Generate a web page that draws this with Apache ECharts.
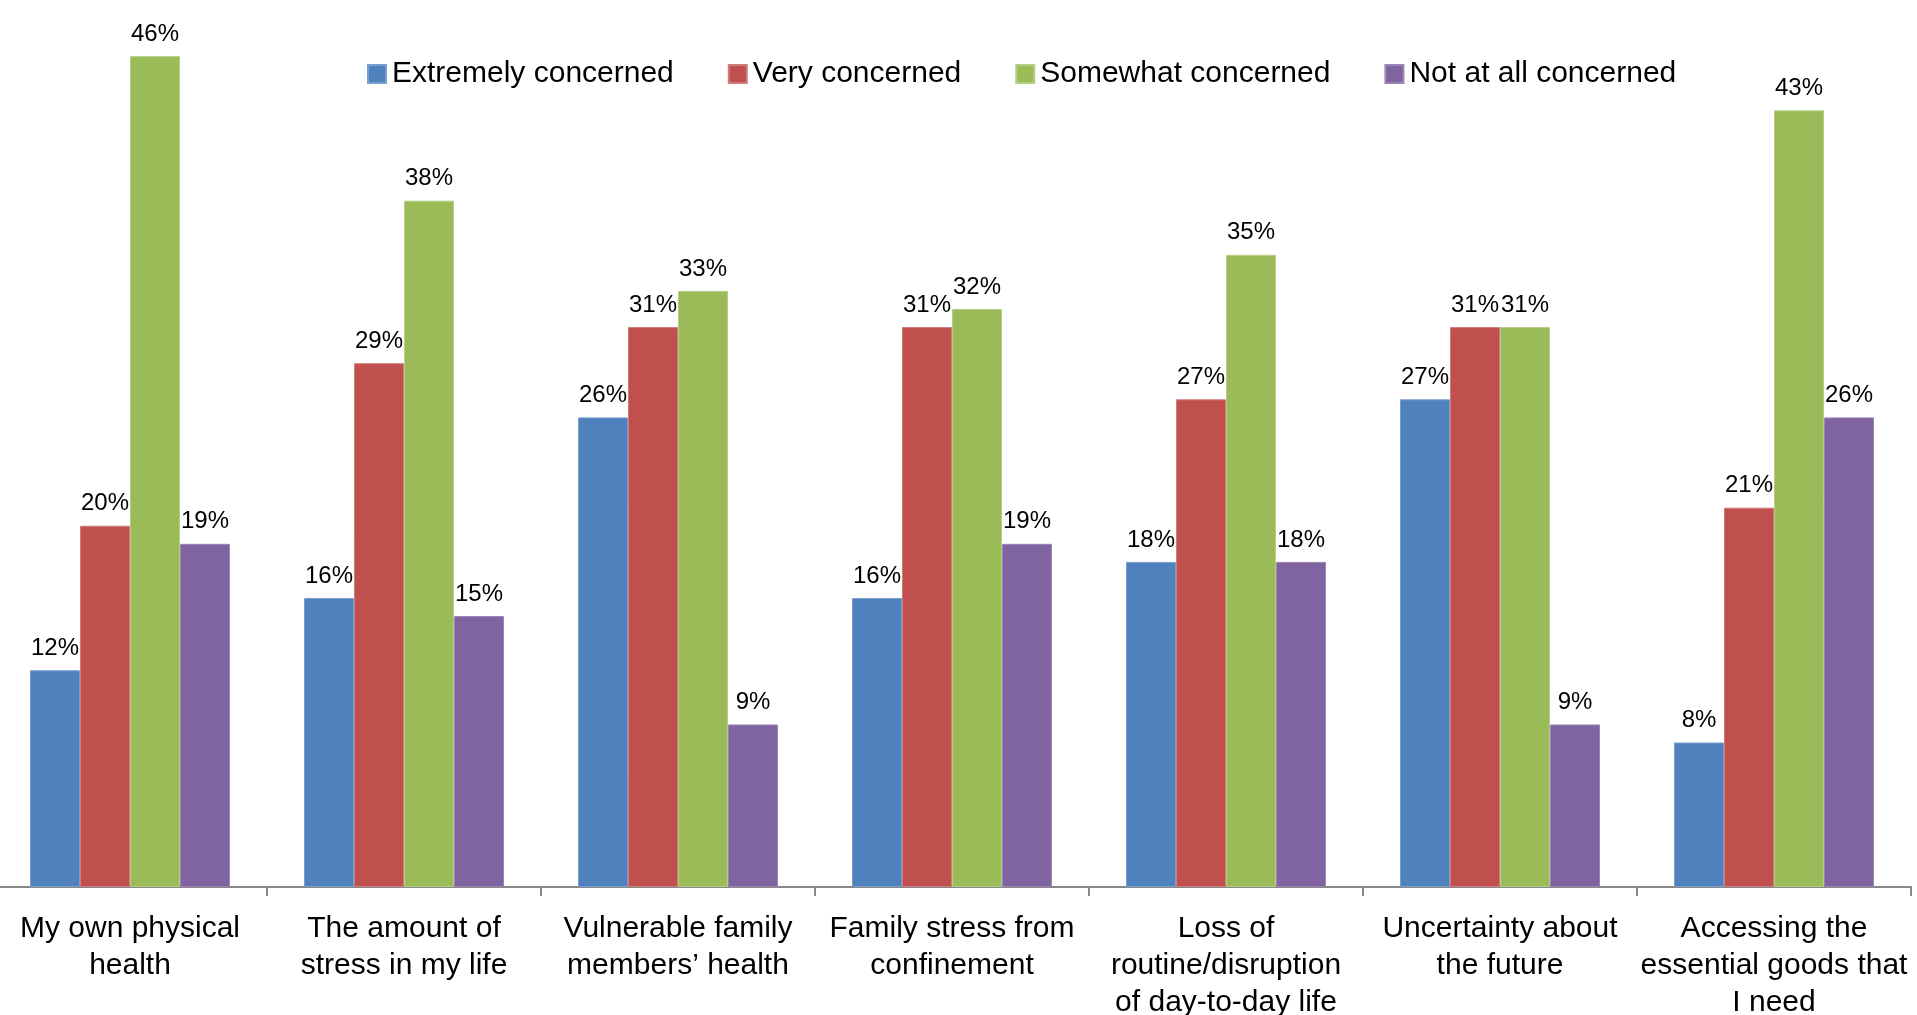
<!DOCTYPE html>
<html>
<head>
<meta charset="utf-8">
<title>Concerns</title>
<script src="https://cdn.jsdelivr.net/npm/echarts@6/dist/echarts.min.js"></script>
<style>
  html, body { margin: 0; padding: 0; background: #ffffff; }
  #chart { width: 1917px; height: 1015px; }
</style>
</head>
<body>
<div id="chart"></div>
<script>
// Survey categories (line breaks follow the wrapped axis labels)
const categories = [
  'My own physical\nhealth',
  'The amount of\nstress in my life',
  'Vulnerable family\nmembers\u2019 health',
  'Family stress from\nconfinement',
  'Loss of\nroutine/disruption\nof day-to-day life',
  'Uncertainty about\nthe future',
  'Accessing the\nessential goods that\nI need'
];

const seriesNames = ['Extremely concerned', 'Very concerned', 'Somewhat concerned', 'Not at all concerned'];

// Percent of respondents per concern level
const extremely = [12, 16, 26, 16, 18, 27, 8];
const very      = [20, 29, 31, 31, 27, 31, 21];
const somewhat  = [46, 38, 33, 32, 35, 31, 43];
const notAtAll  = [19, 15, 9, 19, 18, 9, 26];

const colors = ['#4F81BD', '#C0504D', '#9BBB59', '#8064A2'];
const borders = ['#7A9FCE', '#D07C7A', '#B5CE86', '#9C86B8'];

const font = '"Liberation Sans", Arial, sans-serif';

const chart = echarts.init(document.getElementById('chart'), null, { renderer: 'canvas' });

function makeSeries(name, data, i) {
  return {
    name: name,
    type: 'bar',
    data: data,
    barGap: '0%',
    barCategoryGap: '27%',
    itemStyle: { color: colors[i], borderColor: borders[i], borderWidth: 1 },
    label: {
      show: true,
      position: 'top',
      distance: 10,
      formatter: '{c}%',
      color: '#000000',
      fontFamily: font,
      fontSize: 24
    },
    emphasis: { disabled: true }
  };
}

chart.setOption({
  animation: false,
  backgroundColor: '#ffffff',
  color: colors,
  legend: {
    data: seriesNames,
    left: 362,
    top: 54,
    itemWidth: 18,
    itemHeight: 18,
    itemGap: 54,
    icon: 'rect',
    textStyle: { fontFamily: font, fontSize: 30, color: '#000000', padding: [0, 0, 0, 1] }
  },
  grid: {
    left: -7,
    right: 6,
    top: 20,
    bottom: 128,
    outerBoundsMode: 'none',
    containLabel: false
  },
  xAxis: {
    type: 'category',
    data: categories,
    boundaryGap: true,
    axisLine: { show: true, lineStyle: { color: '#888888', width: 2 } },
    axisTick: { show: true, length: 9, lineStyle: { color: '#888888', width: 2 } },
    axisLabel: {
      interval: 0,
      margin: 23,
      fontFamily: font,
      fontSize: 30,
      lineHeight: 37,
      color: '#000000',
      align: 'center'
    }
  },
  yAxis: {
    type: 'value',
    min: 0,
    max: 48,
    show: false,
    splitLine: { show: false }
  },
  series: [
    makeSeries(seriesNames[0], extremely, 0),
    makeSeries(seriesNames[1], very, 1),
    makeSeries(seriesNames[2], somewhat, 2),
    makeSeries(seriesNames[3], notAtAll, 3)
  ]
});
</script>
</body>
</html>
